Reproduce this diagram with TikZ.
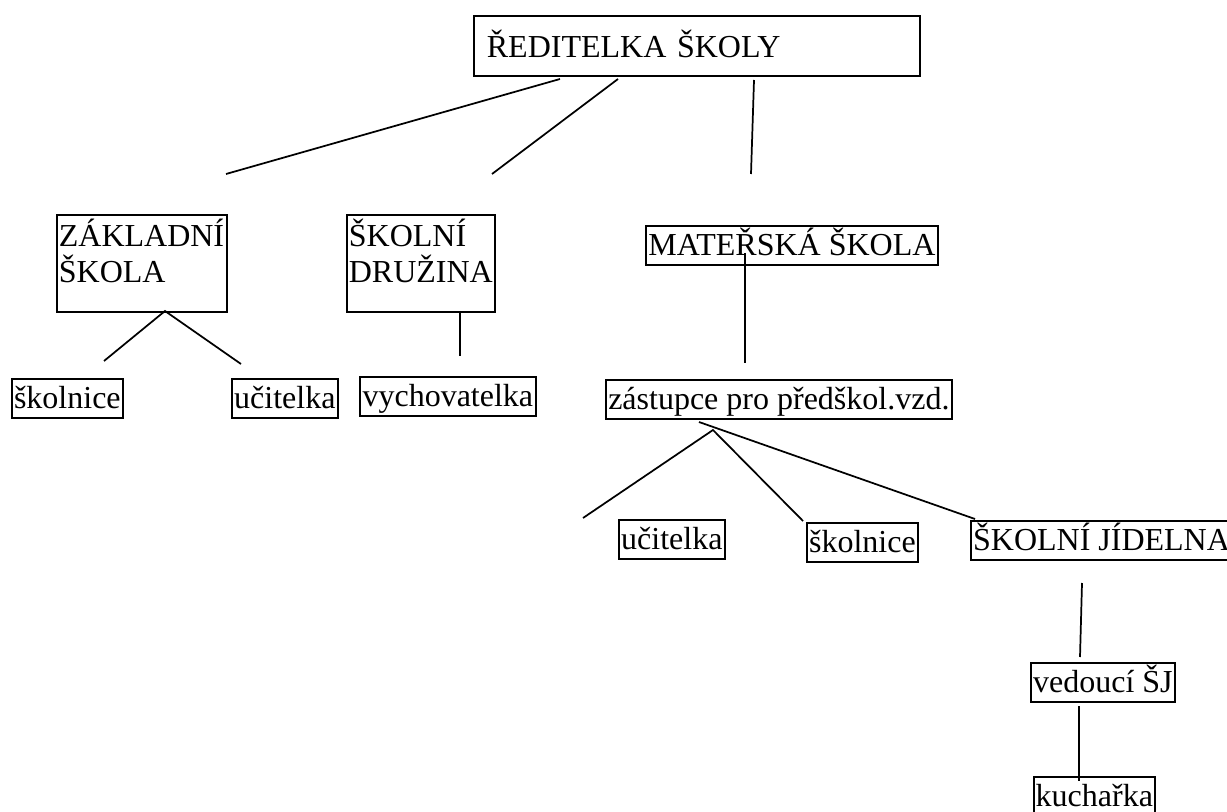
\documentclass[tikz,border=0pt]{standalone}
\usepackage{fontspec}
\setmainfont{Liberation Serif}
\begin{document}
\begin{tikzpicture}[x=0.75pt,y=-0.75pt,
  box/.style={draw,line width=1.3pt,anchor=north west,inner ysep=0pt,inner xsep=1pt,
    font=\fontsize{24pt}{27pt}\selectfont,text height=22.5pt,text depth=6.75pt},
  tallbox/.style={box,align=left,inner xsep=1.5pt,text height=24pt,text depth=48.75pt},
  conn/.style={line width=1.3pt}]
\useasboundingbox (0,0) rectangle (1227,812);
% nodes
\node[box,align=left,inner xsep=9.75pt,text width=315pt,text height=31.5pt,text depth=13.5pt] (red) at (473,15) {ŘEDITELKA ŠKOLY};
\node[tallbox,text width=124.5pt] (zs) at (56,214) {ZÁKLADNÍ\\ŠKOLA};
\node[tallbox,text width=108pt] (sd) at (346,214) {ŠKOLNÍ\\DRUŽINA};
\node[box,minimum width=219pt,inner xsep=0pt] (ms) at (645,225) {MATEŘSKÁ ŠKOLA};
\node[box,minimum width=259.5pt] (zast) at (605,379) {zástupce pro předškol.vzd.};
\node[box,minimum width=83.25pt] (skl1) at (11,378) {školnice};
\node[box,minimum width=79.5pt] (uc1) at (231,378) {učitelka};
\node[box,minimum width=132pt] (vych) at (359,376) {vychovatelka};
\node[box,minimum width=79.5pt] (uc2) at (618,519) {učitelka};
\node[box,minimum width=83.25pt] (skl2) at (806,522) {školnice};
\node[box,minimum width=196pt,inner xsep=1.5pt] (sj) at (970,520) {ŠKOLNÍ JÍDELNA};
\node[box,minimum width=108pt] (ved) at (1030,662) {vedoucí ŠJ};
\node[box,minimum width=90.75pt] (kuch) at (1033,776) {kuchařka};
% connector end points
\coordinate (r1) at (560,79);  \coordinate (r1e) at (226,174);
\coordinate (r2) at (618,79);  \coordinate (r2e) at (492,174);
\coordinate (r3) at (754,80);  \coordinate (r3e) at (751,174);
\coordinate (zsa) at (165,311); \coordinate (zsl) at (104,361); \coordinate (zsr) at (241,364);
\coordinate (sdb) at (460,311); \coordinate (sde) at (460,356);
\coordinate (msb) at (745,253); \coordinate (mse) at (745,363);
\coordinate (za1) at (699,422); \coordinate (za1e) at (975,519);
\coordinate (za2) at (713,430); \coordinate (za2l) at (583,518); \coordinate (za2r) at (803,521);
\coordinate (sjb) at (1082,583); \coordinate (sje) at (1080,657);
\coordinate (vedb) at (1079,706); \coordinate (vede) at (1079,781);
% connectors
\draw[conn] (r1) -- (r1e);
\draw[conn] (r2) -- (r2e);
\draw[conn] (r3) -- (r3e);
\draw[conn] (zsl) -- (zsa) -- (zsr);
\draw[conn] (sdb) -- (sde);
\draw[conn] (msb) -- (mse);
\draw[conn] (za1) -- (za1e);
\draw[conn] (za2l) -- (za2) -- (za2r);
\draw[conn] (sjb) -- (sje);
\draw[conn] (vedb) -- (vede);
\end{tikzpicture}
\end{document}
